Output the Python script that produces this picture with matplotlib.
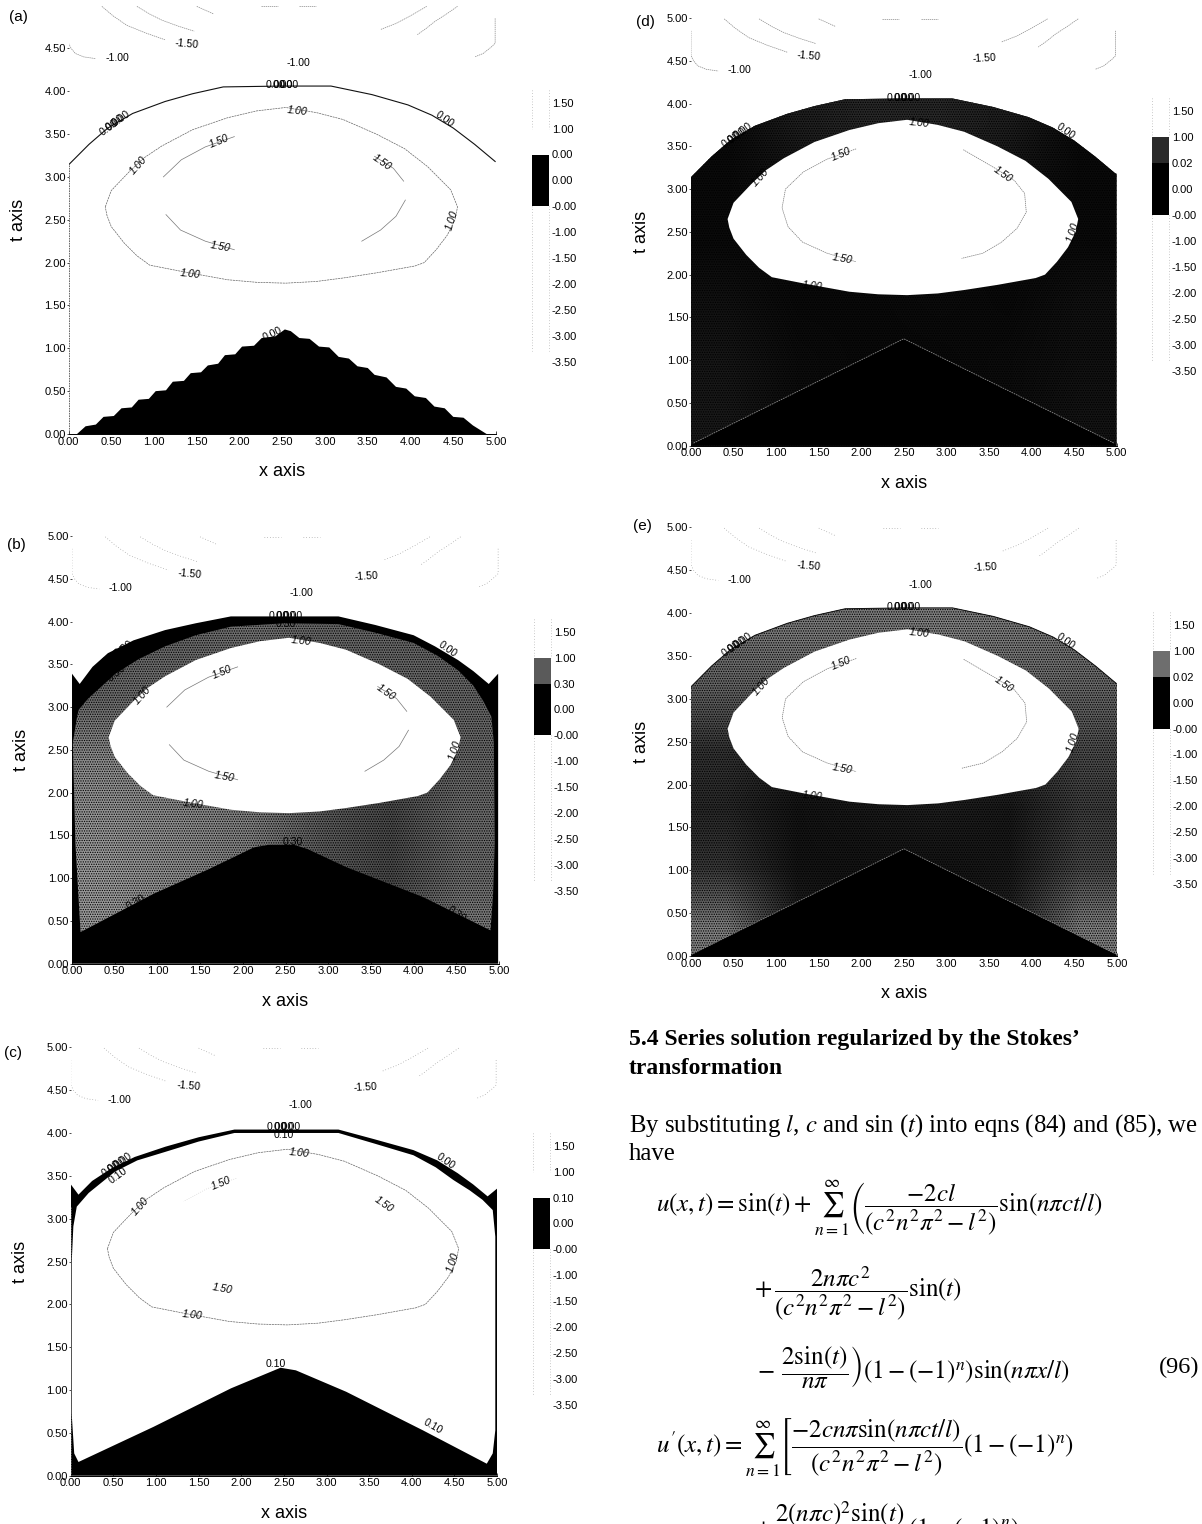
import numpy as np
import matplotlib
matplotlib.use("Agg")
import matplotlib.pyplot as plt
from matplotlib.patches import Polygon

W, H = 1202, 1524
plt.rcParams['font.family'] = ['Liberation Sans', 'DejaVu Sans']
plt.rcParams['mathtext.fontset'] = 'stix'
plt.rcParams['hatch.linewidth'] = 0.6

TICKS = [0.0, 0.5, 1.0, 1.5, 2.0, 2.5, 3.0, 3.5, 4.0, 4.5, 5.0]

ZERO_X = [0.0, 0.24, 0.46, 0.75, 1.13, 1.45, 1.81, 2.5, 3.07, 3.55, 3.97, 4.25, 4.5, 4.75, 4.99]
ZERO_T = [3.14, 3.38, 3.57, 3.74, 3.88, 3.97, 4.05, 4.06, 4.06, 3.96, 3.84, 3.72, 3.57, 3.38, 3.18]

ONE_X = [0.43, 0.50, 0.71, 0.88, 1.09, 1.45, 1.86, 2.20, 2.54, 2.90, 3.21, 3.60, 3.93, 4.20, 4.47, 4.55, 4.52, 4.43, 4.30, 4.16, 4.05, 3.60, 3.21, 2.90, 2.54, 2.20, 1.86, 1.36, 0.95, 0.80, 0.65, 0.50, 0.45, 0.43]
ONE_T = [2.65, 2.84, 3.06, 3.22, 3.36, 3.55, 3.69, 3.77, 3.81, 3.75, 3.67, 3.50, 3.33, 3.12, 2.85, 2.65, 2.50, 2.32, 2.15, 2.00, 1.96, 1.88, 1.82, 1.78, 1.76, 1.77, 1.80, 1.89, 1.97, 2.08, 2.23, 2.42, 2.55, 2.65]

L15_X = [1.94, 1.60, 1.32, 1.11, 1.07, 1.14, 1.31, 1.60, 1.94]
L15_T = [3.47, 3.35, 3.20, 3.00, 2.78, 2.56, 2.38, 2.25, 2.15]
R15_X = [3.20, 3.58, 3.80, 3.92, 3.94, 3.83, 3.65, 3.43, 3.18]
R15_T = [3.46, 3.24, 3.10, 2.95, 2.73, 2.54, 2.38, 2.25, 2.19]

TOP_ARCS = [
    ([0.0, 0.0, 0.03, 0.08, 0.18, 0.32], [4.85, 4.56, 4.50, 4.44, 4.40, 4.38]),
    ([0.39, 0.52, 0.68, 0.90, 1.13], [4.99, 4.88, 4.77, 4.68, 4.60]),
    ([0.80, 0.95, 1.09, 1.28, 1.47], [4.99, 4.90, 4.83, 4.76, 4.70]),
    ([1.50, 1.70], [4.99, 4.90]),
    ([4.55, 4.42, 4.28, 4.18, 4.08], [4.99, 4.90, 4.81, 4.73, 4.66]),
    ([4.19, 4.00, 3.83, 3.65], [4.99, 4.88, 4.79, 4.72]),
    ([4.99, 4.99, 4.95, 4.85, 4.75], [4.85, 4.56, 4.52, 4.44, 4.40]),
    ([2.25, 2.45], [4.99, 4.99]),
    ([2.70, 2.90], [4.99, 4.99]),
]

A_TRI_X = [0.10, 0.20, 0.32, 0.41, 0.53, 0.62, 0.74, 0.82, 0.94, 1.02, 1.14, 1.22, 1.35, 1.43, 1.55, 1.63, 1.75, 1.83, 1.95, 2.03, 2.17, 2.26, 2.42, 2.53, 2.60, 2.70, 2.82, 2.93, 3.05, 3.16, 3.28, 3.38, 3.50, 3.58, 3.72, 3.83, 3.95, 4.05, 4.18, 4.28, 4.40, 4.50, 4.62, 4.73, 4.89]
A_TRI_T = [0.0, 0.09, 0.11, 0.20, 0.21, 0.30, 0.31, 0.40, 0.41, 0.50, 0.51, 0.61, 0.62, 0.71, 0.72, 0.80, 0.82, 0.92, 0.93, 1.02, 1.03, 1.12, 1.14, 1.22, 1.20, 1.12, 1.11, 1.02, 1.01, 0.90, 0.88, 0.79, 0.77, 0.69, 0.66, 0.55, 0.53, 0.44, 0.42, 0.32, 0.30, 0.20, 0.19, 0.10, 0.0]

B_OUT_X = [0.0, 0.0, 0.09, 0.24, 0.42, 0.72, 1.09, 1.45, 1.86, 3.12, 3.55, 4.00, 4.25, 4.52, 4.70, 4.88, 4.99, 4.99]
B_OUT_T = [0.0, 3.39, 3.27, 3.47, 3.63, 3.78, 3.90, 3.98, 4.06, 4.06, 3.96, 3.84, 3.71, 3.55, 3.42, 3.27, 3.39, 0.0]
B_MID_X = [0.08, 0.19, 0.51, 0.78, 1.09, 1.45, 1.86, 2.49, 3.12, 3.55, 4.00, 4.28, 4.52, 4.70, 4.81, 4.91, 4.94, 4.95, 4.93, 4.90, 4.11, 3.21, 2.76, 2.60, 2.30, 2.13, 1.59, 0.96, 0.10, 0.04, 0.01, 0.06]
B_MID_T = [2.97, 3.10, 3.39, 3.56, 3.71, 3.84, 3.94, 3.98, 3.97, 3.87, 3.75, 3.60, 3.43, 3.25, 3.08, 2.89, 2.58, 1.41, 0.80, 0.39, 0.78, 1.13, 1.34, 1.39, 1.39, 1.36, 1.10, 0.82, 0.37, 1.41, 2.58, 2.89]

C_OUT_X = [0.0, 0.0, 0.09, 0.25, 0.48, 0.75, 1.11, 1.50, 1.92, 3.14, 3.55, 4.02, 4.30, 4.54, 4.72, 4.89, 5.0, 5.0]
C_OUT_T = [0.0, 3.40, 3.28, 3.44, 3.59, 3.72, 3.84, 3.95, 4.04, 4.04, 3.93, 3.80, 3.68, 3.53, 3.40, 3.26, 3.35, 0.0]
C_IN_X = [0.03, 0.07, 0.21, 0.52, 0.78, 1.11, 1.50, 1.92, 3.14, 3.55, 4.02, 4.28, 4.49, 4.68, 4.83, 4.95, 4.98, 4.98, 4.95, 4.88, 4.13, 3.23, 2.64, 2.46, 1.88, 0.97, 0.09, 0.04, 0.01, 0.01]
C_IN_T = [2.91, 3.14, 3.30, 3.55, 3.68, 3.78, 3.90, 4.00, 4.00, 3.88, 3.74, 3.60, 3.45, 3.33, 3.22, 3.10, 2.79, 0.53, 0.26, 0.14, 0.53, 0.98, 1.23, 1.26, 1.02, 0.57, 0.16, 0.26, 0.73, 2.48]

TRI_X = [0.0, 0.03, 2.5, 4.97, 5.0]
TRI_T = [0.0, 0.03, 1.25, 0.03, 0.0]

B_SHADE = [[.60, .55, .50, .42, .36, .50], [.60, .55, .50, .36, .28, .42], [.58, .55, .50, .36, .28, .42],
           [.55, .52, .48, .38, .32, .40], [.42, .46, .46, .44, .40, .40], [.40, .40, .44, .40, .40, .40]]
D_SHADE = [[.10, .05, .04, .04, .05, .08], [.09, .05, .04, .04, .05, .07], [.07, .04, .04, .05, .04, .07],
           [.04, .04, .04, .04, .04, .04], [.04, .08, .12, .12, .08, .04], [.04, .12, .16, .16, .12, .04]]
E_SHADE = [[.50, .14, .05, .05, .14, .50], [.22, .08, .08, .08, .10, .28], [.16, .08, .10, .12, .10, .24],
           [.20, .14, .14, .16, .20, .30], [.38, .40, .42, .42, .42, .40], [.46, .48, .48, .50, .48, .46]]

CB_LABELS = {
    'a': ['1.50', '1.00', '0.00', '0.00', '-0.00', '-1.00', '-1.50', '-2.00', '-2.50', '-3.00', '-3.50'],
    'b': ['1.50', '1.00', '0.30', '0.00', '-0.00', '-1.00', '-1.50', '-2.00', '-2.50', '-3.00', '-3.50'],
    'c': ['1.50', '1.00', '0.10', '0.00', '-0.00', '-1.00', '-1.50', '-2.00', '-2.50', '-3.00', '-3.50'],
    'd': ['1.50', '1.00', '0.02', '0.00', '-0.00', '-1.00', '-1.50', '-2.00', '-2.50', '-3.00', '-3.50'],
    'e': ['1.50', '1.00', '0.02', '0.00', '-0.00', '-1.00', '-1.50', '-2.00', '-2.50', '-3.00', '-3.50'],
}

SHARED_LABELS = [
    (0.57, 4.39, '-1.00', 0), (1.38, 4.55, '-1.50', -5), (2.69, 4.33, '-1.00', 0),
    (2.68, 3.77, '1.00', -6), (1.76, 3.41, '1.50', 22), (0.82, 3.14, '1.00', 48),
    (3.67, 3.17, '1.50', -35), (4.49, 2.49, '1.00', 72), (1.78, 2.18, '1.50', -10),
    (1.42, 1.87, '1.00', -6),
]
RIGHT_150 = (3.45, 4.53, '-1.50', 3)
CLUSTERS = [(2.42, 4.07, 0), (2.50, 4.07, 0), (2.58, 4.07, 0),
            (0.47, 3.58, 36), (0.54, 3.63, 36), (0.61, 3.68, 36), (4.40, 3.67, -35)]

fig = plt.figure(figsize=(W / 100, H / 100), dpi=100, facecolor='white')


def px_axes(l, r, top, bot):
    return fig.add_axes([l / W, 1 - bot / H, (r - l) / W, (bot - top) / H])


def ftext(x, y, s, **kw):
    kw.setdefault('ha', 'center')
    kw.setdefault('va', 'center')
    return fig.text(x / W, 1 - y / H, s, **kw)


def shade(ax, grid, xs, ts):
    patch = Polygon(np.column_stack([xs, ts]), closed=True, transform=ax.transData, fc='none', ec='none')
    ax.add_patch(patch)
    im = ax.imshow(grid, extent=(0, 5, 0, 4.1), origin='lower', cmap='gray', vmin=0, vmax=1,
                   interpolation='bilinear', aspect='auto', zorder=2)
    im.set_clip_path(patch)
    ax.fill(xs, ts, facecolor='none', edgecolor='#000000', hatch='.......', lw=0, zorder=2.2)
    ax.set_xlim(0, 5)
    ax.set_ylim(0, 5)


def panel(key, l, r, top, bot, lab_xy, cb_l, cb_r, cb_top, cb_bot):
    ax = px_axes(l, r, top, bot)
    ax.set_xlim(0, 5)
    ax.set_ylim(0, 5)
    for s in ['top', 'right', 'left']:
        ax.spines[s].set_visible(False)
    ax.spines['bottom'].set_linewidth(0.7)
    ax.spines['bottom'].set_zorder(6)
    ax.set_xticks(TICKS)
    ax.set_xticklabels(['%.2f' % v for v in TICKS], fontsize=8)
    yt = TICKS[:-1] if key == 'a' else TICKS
    ax.set_yticks(yt)
    ax.set_yticklabels(['%.2f' % v for v in yt], fontsize=8)
    ax.tick_params(axis='x', direction='in', length=2.5, width=0.5, pad=2)
    ax.tick_params(axis='y', direction='out', length=1.5, width=0.5, pad=0.5)

    if key == 'a':
        ax.fill(A_TRI_X, A_TRI_T, color='black', lw=0, zorder=2)
        ax.plot(ZERO_X, ZERO_T, color='#111111', lw=0.8, zorder=3)
    elif key == 'b':
        ax.fill(B_OUT_X, B_OUT_T, color='black', lw=0, zorder=1)
        shade(ax, B_SHADE, B_MID_X, B_MID_T)
        ax.fill(ONE_X, ONE_T, color='white', lw=0, zorder=3)
    elif key == 'c':
        ax.fill(C_OUT_X, C_OUT_T, color='black', lw=0, zorder=1)
        ax.fill(C_IN_X, C_IN_T, color='white', lw=0, zorder=2)
    else:
        xs = [0.0] + ZERO_X + [5.0, 5.0, 0.0]
        ts = [3.14] + ZERO_T + [3.18, 0.0, 0.0]
        ax.fill(xs, ts, color='#0a0a0a', lw=0, zorder=1)
        shade(ax, D_SHADE if key == 'd' else E_SHADE, xs, ts)
        ax.fill(ONE_X, ONE_T, color='white', lw=0, zorder=3)
        ax.fill(TRI_X, TRI_T, color='black', lw=0, zorder=3)
        ax.plot(TRI_X[1:4], TRI_T[1:4], color='#8a8a8a', lw=0.6, ls=(0, (2, 1)), zorder=3.5)
        if key == 'e':
            ax.plot(ZERO_X, ZERO_T, color='#111111', lw=0.7, zorder=3.5)

    if key in ('a', 'c'):
        ax.plot(ONE_X, ONE_T, color='#666666', lw=0.5, ls=(0, (3, 1)), zorder=3)

    if key in ('d', 'e'):
        ax.plot(L15_X, L15_T, color='#777777', lw=0.5, ls=(0, (2, 1)), zorder=3.5)
        ax.plot(R15_X, R15_T, color='#777777', lw=0.5, ls=(0, (2, 1)), zorder=3.5)
    elif key == 'c':
        ax.plot(L15_X[:3], L15_T[:3], color='#aaaaaa', lw=0.4, ls=(0, (1, 3)), zorder=3.5)
    else:
        ax.plot(L15_X[:4], L15_T[:4], color='#777777', lw=0.5, zorder=3.5)
        ax.plot(L15_X[5:], L15_T[5:], color='#777777', lw=0.5, zorder=3.5)
        ax.plot(R15_X[1:4], R15_T[1:4], color='#777777', lw=0.5, zorder=3.5)
        ax.plot(R15_X[4:8], R15_T[4:8], color='#777777', lw=0.5, zorder=3.5)

    for xs, ts in TOP_ARCS:
        ax.plot(xs, ts, color='#8a8a8a', lw=0.5, ls=(0, (2, 1)) if key in ('a', 'd') else (0, (1, 3)), zorder=2)

    if key in ('a', 'c'):
        ax.plot([0, 0], [0, 3.14], color='#555555', lw=0.6, ls=(0, (2, 1)), zorder=2)
        ax.plot([5, 5], [0, 3.18], color='#555555', lw=0.6, ls=(0, (2, 1)), zorder=2)
        ax.plot([5, 5], [3.18, 4.2], color='#999999', lw=0.5, ls=(0, (1, 2)), zorder=2)

    labels = list(SHARED_LABELS)
    if key != 'a':
        labels.append(RIGHT_150)
    for x, t, s, rot in labels:
        ax.text(x, t, s, fontsize=7.6, ha='center', va='center', rotation=rot, rotation_mode='anchor',
                style='italic' if s in ('1.50', '1.00') else 'normal', zorder=5)
    for x, t, rot in CLUSTERS:
        ax.text(x, t, '0.00', fontsize=7.6, ha='center', va='center', rotation=rot, rotation_mode='anchor', zorder=5)
    if key == 'a':
        ax.text(2.39, 1.17, '0.00', fontsize=7.6, ha='center', va='center', rotation=25, zorder=5)
    if key == 'b':
        for x, t, rot in [(2.5, 3.97, 0), (0.52, 3.4, 40), (2.58, 1.42, 0), (0.75, 0.72, 30), (4.5, 0.58, -35)]:
            ax.text(x, t, '0.30', fontsize=7.6, ha='center', va='center', rotation=rot, zorder=5)
    if key == 'c':
        for x, t, rot in [(2.5, 3.98, 0), (0.55, 3.5, 36), (2.4, 1.3, 0), (4.25, 0.57, -30)]:
            ax.text(x, t, '0.10', fontsize=7.6, ha='center', va='center', rotation=rot, zorder=5)

    mid_x = (l + r) / 2
    ftext(mid_x, bot + 38, 'x axis', fontsize=13)
    ftext(l - 50, (top + bot) / 2, 't axis', fontsize=13, rotation=90)
    ftext(lab_xy[0], lab_xy[1], '(%s)' % key, fontsize=11)

    cb = px_axes(cb_l, cb_r, cb_top, cb_bot)
    cb.set_xlim(0, 1)
    cb.set_ylim(10, 0)
    for s in cb.spines.values():
        s.set_visible(False)
    cb.set_xticks([])
    cb.yaxis.tick_right()
    cb.set_yticks(range(11))
    cb.set_yticklabels(CB_LABELS[key], fontsize=8)
    cb.tick_params(axis='y', length=0, pad=2)
    cb.fill_between([0, 1], 2, 4, color='black', lw=0)
    if key in ('b', 'd', 'e'):
        cb.fill_between([0, 1], 1, 2, color={'b': '#5a5a5a', 'd': '#2a2a2a', 'e': '#6e6e6e'}[key], lw=0)
    for xv in (0.01, 0.99):
        cb.plot([xv, xv], [4, 9.6], color='#999999', lw=0.5, ls=(0, (1, 3)), clip_on=False)
        cb.plot([xv, xv], [-0.5, 1], color='#999999', lw=0.5, ls=(0, (1, 3)), clip_on=False)


panel('a', 68.5, 496, 5.5, 434, (18, 17), 531.5, 549, 102.7, 361.7)
panel('b', 72, 499, 536, 963.7, (16, 545), 533.5, 551, 631.7, 891)
panel('c', 70.8, 497, 1047.3, 1475.7, (13, 1053), 532.7, 550, 1145.7, 1405)
panel('d', 691, 1116.5, 18, 445.7, (645, 22), 1152, 1169, 111, 371)
panel('e', 691, 1117, 527.3, 956, (642, 526), 1152.7, 1170, 625, 884)

SERIF = ['Liberation Serif', 'DejaVu Serif']
T_KW = dict(ha='left', va='baseline', family=SERIF)
ftext(629, 1045, "5.4 Series solution regularized by the Stokes\u2019", fontsize=17, fontweight='bold', **T_KW)
ftext(629, 1074, "transformation", fontsize=17, fontweight='bold', **T_KW)
ftext(629, 1132, r"By substituting $l$, $c$ and sin ($t$) into eqns (84) and (85), we", fontsize=17.8, **T_KW)
ftext(629, 1160, "have", fontsize=17.8, **T_KW)

EQ_KW = dict(ha='left', va='center', family=SERIF, fontsize=18)
ftext(656, 1208, r"$u(x,t)=\sin(t)+\sum_{n=1}^{\infty}\left(\dfrac{-2cl}{(c^2n^2\pi^2-l^2)}\sin(n\pi ct/l)\right.$", **EQ_KW)
ftext(754, 1293, r"$+\,\dfrac{2n\pi c^2}{(c^2n^2\pi^2-l^2)}\sin(t)$", **EQ_KW)
ftext(754, 1367, r"$\left.-\,\dfrac{2\sin(t)}{n\pi}\right)(1-(-1)^n)\sin(n\pi x/l)$", **EQ_KW)
ftext(1199, 1367, "(96)", ha='right', va='center', family=SERIF, fontsize=17.5)
ftext(656, 1448, r"$u'(x,t)=\sum_{n=1}^{\infty}\left[\dfrac{-2cn\pi\sin(n\pi ct/l)}{(c^2n^2\pi^2-l^2)}(1-(-1)^n)\right.$", **EQ_KW)
ftext(754, 1531, r"$+\,\dfrac{2(n\pi c)^2\sin(t)}{(c^2n^2\pi^2-l^2)}(1-(-1)^n)$", **EQ_KW)

fig.savefig('out.png', dpi=100, facecolor='white')
